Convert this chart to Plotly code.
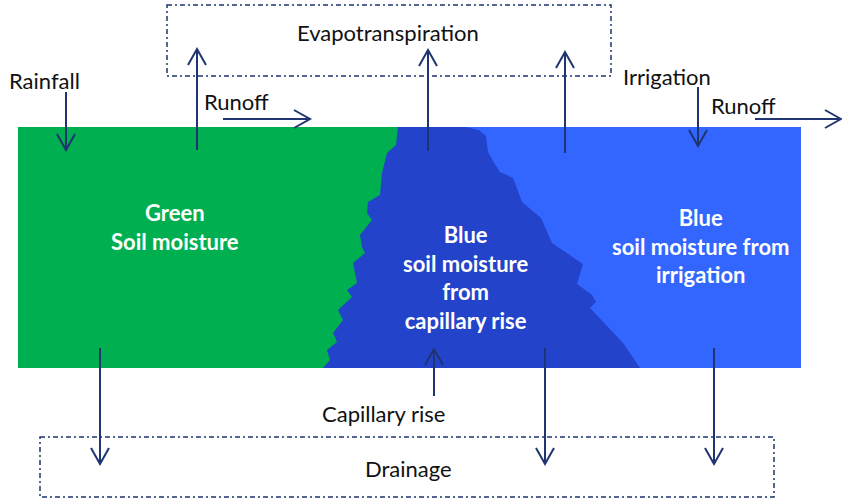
import plotly.graph_objects as go

W, H = 842, 502
NAVY = "#1F3470"
GREEN = "#00AF4F"
LIGHT = "#3366FF"
DARK = "#2343CB"

# soil block extent
block = dict(x0=18, x1=801, y0=127, y1=368)

# jagged boundaries of the capillary-rise zone
left_edge = [(398, 127), (396, 145), (387, 153), (382, 173), (380, 195), (368, 202),
             (367, 213), (372, 220), (360, 235), (362, 247), (365, 253), (353, 263),
             (357, 283), (347, 290), (352, 297), (338, 310), (343, 320), (333, 333),
             (337, 342), (327, 350), (330, 360), (323, 368)]
right_edge = [(466, 127), (479, 130), (486, 136), (488, 152), (493, 161), (500, 172),
              (513, 178), (522, 202), (541, 218), (552, 243), (583, 264), (577, 284),
              (592, 295), (596, 302), (590, 308), (623, 343), (640, 368)]

# arrows: (x_start, y_start, x_end, y_end) – head at end
arrows = [
    (66, 92, 66, 150),      # rainfall
    (197, 150, 197, 49),    # ET 1
    (223, 119, 310, 119),   # runoff 1
    (428, 151, 428, 50),    # ET 2
    (565, 153, 565, 52),    # ET 3
    (698, 87, 698, 146),    # irrigation
    (755, 119, 841, 119),   # runoff 2
    (100, 348, 100, 464),   # drainage 1
    (545, 348, 545, 464),   # drainage 2
    (714, 348, 714, 464),   # drainage 3
    (434, 396, 434, 349),   # capillary rise
]

boxes = [(167, 5, 611, 76), (40, 437, 774, 497)]

labels = [
    ("Evapotranspiration", 388, 32, "center"),
    ("Rainfall", 7, 80, "left"),
    ("Runoff", 202, 101, "left"),
    ("Irrigation", 621, 76, "left"),
    ("Runoff", 709, 105, "left"),
    ("Capillary rise", 383, 413, "center"),
    ("Drainage", 408, 468, "center"),
]
zone_labels = [
    ("Green<br>Soil moisture", 175, 227),
    ("Blue<br>soil moisture<br>from<br>capillary rise", 466, 277),
    ("Blue<br>soil moisture from<br>irrigation", 700, 246),
]

fig = go.Figure()
shapes = []
shapes.append(dict(type="rect", x0=block["x0"], x1=block["x1"], y0=block["y0"], y1=block["y1"],
                   fillcolor=GREEN, line=dict(width=0), layer="below"))
shapes.append(dict(type="rect", x0=400, x1=block["x1"], y0=block["y0"], y1=block["y1"],
                   fillcolor=LIGHT, line=dict(width=0), layer="below"))
poly = left_edge + right_edge[::-1]
path = "M " + " L ".join(f"{x},{y}" for x, y in poly) + " Z"
shapes.append(dict(type="path", path=path, fillcolor=DARK, line=dict(width=0), layer="below"))

for x0, y0, x1, y1 in boxes:
    shapes.append(dict(type="rect", x0=x0, x1=x1, y0=y0, y1=y1, fillcolor="rgba(0,0,0,0)",
                       line=dict(color=NAVY, width=1.5, dash="5px,3px,2px,3px")))

HL, HW = 16, 9
for x0, y0, x1, y1 in arrows:
    shapes.append(dict(type="line", x0=x0, y0=y0, x1=x1, y1=y1, line=dict(color=NAVY, width=2)))
    dx, dy = x1 - x0, y1 - y0
    n = (dx * dx + dy * dy) ** 0.5
    ux, uy = dx / n, dy / n
    px, py = -uy, ux
    bx, by = x1 - ux * HL, y1 - uy * HL
    p = (f"M {bx + px * HW},{by + py * HW} L {x1},{y1} L {bx - px * HW},{by - py * HW}")
    shapes.append(dict(type="path", path=p, line=dict(color=NAVY, width=2)))

for t, x, y, al in labels:
    fig.add_annotation(x=x, y=y, text=t, showarrow=False, xanchor=al, yanchor="middle",
                       font=dict(family="Lato", size=22, color="#111111"))
for t, x, y in zone_labels:
    fig.add_annotation(x=x, y=y, text=f"<b>{t}</b>", showarrow=False, xanchor="center",
                       yanchor="middle", align="center",
                       font=dict(family="Lato", size=22, color="white"))

fig.update_layout(
    width=W, height=H, margin=dict(l=0, r=0, t=0, b=0),
    paper_bgcolor="white", plot_bgcolor="white", shapes=shapes, showlegend=False,
    xaxis=dict(range=[0, W], visible=False, fixedrange=True),
    yaxis=dict(range=[H, 0], visible=False, fixedrange=True),
)
fig.write_html("out.html", config={"displayModeBar": False},
               post_script="document.body.style.margin='0';document.body.style.padding='0';")
